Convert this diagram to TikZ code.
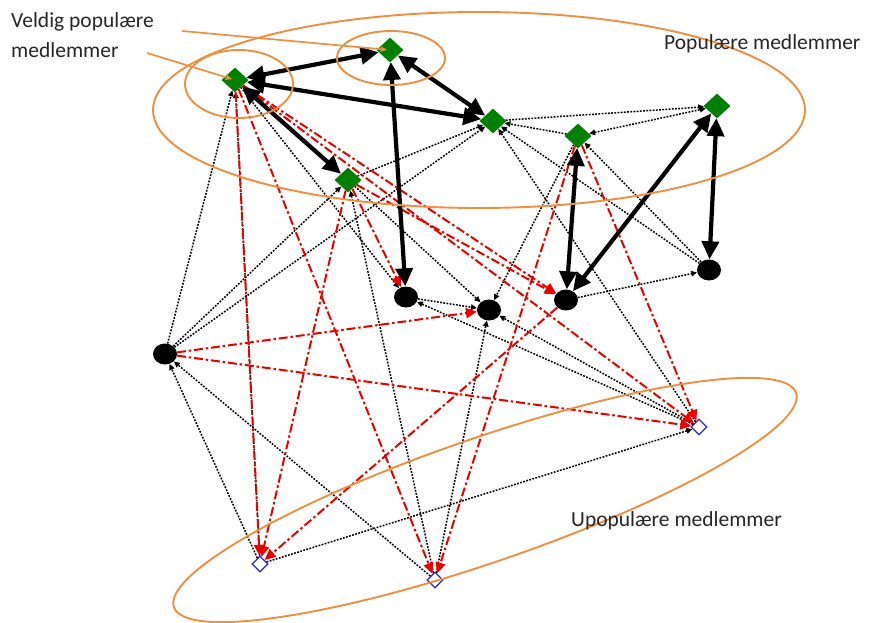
\documentclass[tikz,border=0pt]{standalone}
\usepackage{fontspec}
\setmainfont{Carlito}
\usepackage{tikz}
\usetikzlibrary{arrows.meta}
\usetikzlibrary{shapes.geometric}
\definecolor{ringorange}{RGB}{237,145,65}
\definecolor{popgreen}{RGB}{0,128,0}
\definecolor{unpopblue}{RGB}{40,40,225}
\definecolor{negred}{RGB}{235,0,0}

\begin{document}
\begin{tikzpicture}[x=1pt,y=-1pt,
  pop/.style={diamond, shape aspect=1, fill=popgreen, inner sep=0pt, minimum width=27pt, minimum height=25pt},
  mid/.style={ellipse, fill=black, inner sep=0pt, minimum width=24pt, minimum height=21pt},
  unpop/.style={diamond, shape aspect=1, draw=unpopblue, line width=1.3pt, fill=white, inner sep=0pt, minimum size=16pt},
  strong/.style={line width=4.2pt, >={Triangle[length=18pt,width=17pt]}, <->},
  weak/.style={line width=1.5pt, dash pattern=on 1.8pt off 1.4pt, >={Triangle[length=6pt,width=5.5pt]}, ->},
  neg/.style={draw=negred, line width=2pt, dash pattern=on 9pt off 2.8pt on 2.5pt off 2.8pt, >={Triangle[length=11pt,width=10pt]}, ->},
  ring/.style={draw=ringorange, line width=1.9pt},
  lead/.style={draw=ringorange, line width=1.7pt, >={Stealth[length=7pt,width=6pt]}, ->},
  lbl/.style={anchor=west, inner sep=0pt, text=black!85, font=\fontsize{21.5}{25}\selectfont}]
\useasboundingbox (0,0) rectangle (872,623);

% popular members
\node[pop] (va) at (235,80) {};
\node[pop] (vb) at (390,50) {};
\node[pop] (pc) at (493,121) {};
\node[pop] (pd) at (348,180) {};
\node[pop] (pe) at (578,136) {};
\node[pop] (pf) at (717,106) {};
% middle
\node[mid] (mg) at (406,297) {};
\node[mid] (mh) at (489,310) {};
\node[mid] (mi) at (566,300) {};
\node[mid] (mj) at (709,270) {};
\node[mid] (mk) at (165,354) {};
% unpopular members
\node[unpop] (ul) at (699,427) {};
\node[unpop] (um) at (260,564) {};
\node[unpop] (un) at (435,580) {};

% dotted ties
\draw[weak] (mk) -- (va);
\draw[weak] (um) -- (va);
\draw[weak] (va) -- (mg);
\draw[weak] (mk) -- (pd);
\draw[weak] (mk) -- (pc);
\draw[weak] (pd) -- (pc);
\draw[weak] (pe) -- (pc);
\draw[weak] (mj) -- (pc);
\draw[weak] (ul) -- (pc);
\draw[weak] (pc) -- (pf);
\draw[weak, <->] (pe) -- (pf);
\draw[weak] (mj) -- (pe);
\draw[weak] (pe) -- (mh);
\draw[weak] (pd) -- (mh);
\draw[weak] (mi) -- (mj);
\draw[weak] (mg) -- (mh);
\draw[weak] (ul) -- (mg);
\draw[weak] (ul) -- (mh);
\draw[weak] (um) -- (ul);
\draw[weak] (um) -- (mk);
\draw[weak] (un) -- (mk);
\draw[weak] (un) -- (mh);
\draw[weak] (un) -- (pd);

% negative ties
\draw[neg] (va) -- (um);
\draw[neg] (va) -- (un);
\draw[neg] (va) -- (mi);
\draw[neg] (va) -- (ul);
\draw[neg] (pd) -- (mg);
\draw[neg] (pd) -- (mi);
\draw[neg] (pd) -- (um);
\draw[neg] (pe) -- (un);
\draw[neg] (pe) -- (ul);
\draw[neg] (mk) -- (mh);
\draw[neg] (mk) -- (ul);
\draw[neg] (mi) -- (um);

% strong mutual ties
\draw[strong] (va) -- (vb);
\draw[strong] (va) -- (pc);
\draw[strong] (vb) -- (pc);
\draw[strong] (va) -- (pd);
\draw[strong] (vb) -- (mg);
\draw[strong] (pe) -- (mi);
\draw[strong] (pf) -- (mi);
\draw[strong] (pf) -- (mj);

% groups
\draw[ring] (479,110) ellipse [x radius=326, y radius=98];
\draw[ring] (239,84) ellipse [x radius=54, y radius=34];
\draw[ring] (391,58) ellipse [x radius=54, y radius=27];
\draw[ring, rotate around={19:(485,500)}] (485,500) ellipse [x radius=329, y radius=62];

\node[lbl] (veryA) at (11,22) {Veldig populære};
\node[lbl] (veryB) at (11,50) {medlemmer};
\node[lbl] (popl) at (664,44) {Populære medlemmer};
\node[lbl] (unpopl) at (571,521) {Upopulære medlemmer};
\coordinate (tipA) at (182,31);
\coordinate (tipB) at (147,53);
\draw[lead, shorten >=3pt] (tipA) -- (vb.center);
\draw[lead, shorten >=3pt] (tipB) -- (va.center);
\end{tikzpicture}
\end{document}
